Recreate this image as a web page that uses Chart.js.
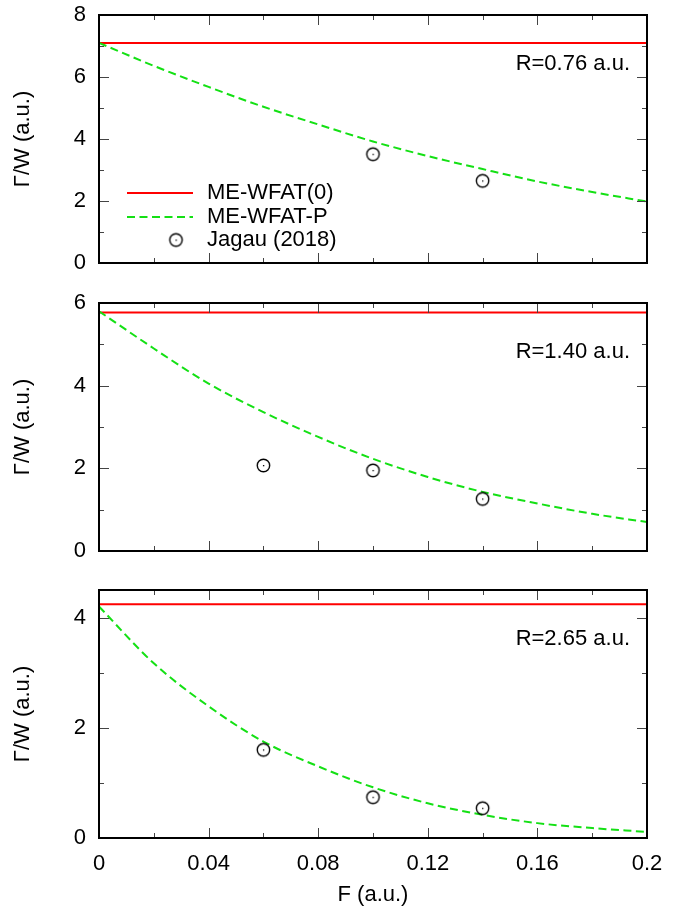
<!DOCTYPE html>
<html>
<head>
<meta charset="utf-8">
<script src="https://cdn.jsdelivr.net/npm/chart.js@4.4.1/dist/chart.umd.min.js"></script>
<style>
  html, body { margin: 0; padding: 0; background: #fff; }
  #wrap { position: relative; width: 685px; height: 913px; overflow: hidden; }
  canvas { position: absolute; left: 0; }
</style>
</head>
<body>
<div id="wrap">
  <canvas id="c1" width="685" height="283" style="top:0px"></canvas>
  <canvas id="c2" width="685" height="290" style="top:283px"></canvas>
  <canvas id="c3" width="685" height="340" style="top:573px"></canvas>
</div>
<script>
// ---------------- DATA ----------------
const F_GRID = [0, 0.02, 0.04, 0.06, 0.08, 0.10, 0.12, 0.14, 0.16, 0.18, 0.20];
const SERIES_NAMES = ['ME-WFAT(0)', 'ME-WFAT-P', 'Jagau (2018)'];
const PANEL_LABELS = ['R=0.76 a.u.', 'R=1.40 a.u.', 'R=2.65 a.u.'];

// ME-WFAT(0): constant value per panel
const WFAT0_R076 = 7.10;
const WFAT0_R140 = 5.77;
const WFAT0_R265 = 4.24;

// ME-WFAT-P curves at F_GRID
const WFATP_R076 = [7.10, 6.36, 5.68, 5.04, 4.47, 3.92, 3.45, 3.03, 2.63, 2.29, 1.98];
const WFATP_R140 = [5.80, 4.90, 4.05, 3.36, 2.76, 2.23, 1.79, 1.43, 1.15, 0.90, 0.70];
const WFATP_R265 = [4.20, 3.17, 2.39, 1.75, 1.30, 0.92, 0.63, 0.42, 0.27, 0.18, 0.11];

// Jagau (2018) points
const JAGAU_F_R076 = [0.10, 0.14];
const JAGAU_R076   = [3.51, 2.65];
const JAGAU_F_R140 = [0.06, 0.10, 0.14];
const JAGAU_R140   = [2.07, 1.95, 1.26];
const JAGAU_F_R265 = [0.06, 0.10, 0.14];
const JAGAU_R265   = [1.60, 0.74, 0.54];

// axes
const X_MIN = 0, X_MAX = 0.2;
const X_TICK_VALUES = [0, 0.04, 0.08, 0.12, 0.16, 0.2];
const X_TICK_LABELS = ['0', '0.04', '0.08', '0.12', '0.16', '0.2'];
const X_MINOR = [0.02, 0.06, 0.10, 0.14, 0.18];
const Y_MAX_R076 = 8, Y_MAX_R140 = 6, Y_MAX_R265 = 4.5;
const Y_MAJOR_R076 = [0, 2, 4, 6, 8], Y_MINOR_R076 = [1, 3, 5, 7];
const Y_MAJOR_R140 = [0, 2, 4, 6],    Y_MINOR_R140 = [1, 3, 5];
const Y_MAJOR_R265 = [0, 2, 4],       Y_MINOR_R265 = [1, 3];
const X_TITLE = 'F (a.u.)';
const Y_TITLE = 'Γ/W (a.u.)';

// ---------------- STYLE ----------------
const FONT = "'Liberation Sans', Arial, Helvetica, sans-serif";
Chart.defaults.font.family = FONT;
Chart.defaults.font.size = 22;
Chart.defaults.color = '#000';
const RED = '#ff0000';
const GREEN = '#14e014';

// open circle with a center dot (gnuplot pt 6 style)
function makeMarker() {
  const c = document.createElement('canvas');
  c.width = 17; c.height = 17;
  const g = c.getContext('2d');
  g.strokeStyle = '#000'; g.lineWidth = 1.4;
  g.beginPath(); g.arc(8.5, 8.5, 6.2, 0, Math.PI * 2); g.stroke();
  g.fillStyle = '#000';
  g.fillRect(8, 8, 1.3, 1.3);
  return c;
}
const MARKER = makeMarker();

const frameTicks = {
  id: 'frameTicks',
  afterDraw(chart, args, opts) {
    const { ctx, chartArea: { left, right, top, bottom }, scales: { x, y } } = chart;
    ctx.save();
    ctx.strokeStyle = '#444';
    ctx.lineWidth = 1;
    const seg = (x1, y1, x2, y2) => { ctx.beginPath(); ctx.moveTo(x1, y1); ctx.lineTo(x2, y2); ctx.stroke(); };
    const MAJ = 10, MIN = 5;
    X_TICK_VALUES.forEach(v => { const p = Math.round(x.getPixelForValue(v)) + 0.5; seg(p, bottom, p, bottom - MAJ); seg(p, top, p, top + MAJ); });
    X_MINOR.forEach(v => { const p = Math.round(x.getPixelForValue(v)) + 0.5; seg(p, bottom, p, bottom - MIN); seg(p, top, p, top + MIN); });
    opts.yMajor.forEach(v => { const p = Math.round(y.getPixelForValue(v)) + 0.5; seg(left, p, left + MAJ, p); seg(right, p, right - MAJ, p); });
    opts.yMinor.forEach(v => { const p = Math.round(y.getPixelForValue(v)) + 0.5; seg(left, p, left + MIN, p); seg(right, p, right - MIN, p); });
    ctx.strokeStyle = '#000';
    ctx.lineWidth = 2;
    ctx.strokeRect(left, top, right - left, bottom - top);
    // panel label
    ctx.fillStyle = '#000';
    ctx.font = '22px ' + FONT;
    ctx.textAlign = 'right';
    ctx.textBaseline = 'middle';
    ctx.fillText(opts.label, right - 17, top + 49);
    // legend
    if (opts.legend) {
      const ds = chart.data.datasets;
      const rows = [193, 217, 240];
      const x1 = 127, x2 = 193, tx = 207;
      ds.forEach((d, i) => {
        const yy = rows[i];
        if (d.showLine !== false) {
          ctx.save();
          ctx.strokeStyle = d.borderColor;
          ctx.lineWidth = d.borderWidth;
          ctx.setLineDash(d.borderDash || []);
          ctx.beginPath(); ctx.moveTo(x1, yy); ctx.lineTo(x2, yy); ctx.stroke();
          ctx.restore();
        } else {
          ctx.drawImage(MARKER, 176 - 8.5, yy - 8.5);
        }
        ctx.textAlign = 'left';
        ctx.fillText(d.label, tx, yy);
      });
    }
    ctx.restore();
  }
};

function pts(xs, ys) { return xs.map((v, i) => ({ x: v, y: ys[i] })); }

function makePanel(id, cfg) {
  const canvas = document.getElementById(id);
  return new Chart(canvas, {
    type: 'line',
    data: {
      datasets: [
        { label: SERIES_NAMES[0], data: pts([X_MIN, X_MAX], [cfg.w0, cfg.w0]),
          borderColor: RED, borderWidth: 2, pointRadius: 0, fill: false, order: 2 },
        { label: SERIES_NAMES[1], data: pts(F_GRID, cfg.wp),
          borderColor: GREEN, borderWidth: 2, borderDash: [8, 4.5], pointRadius: 0,
          cubicInterpolationMode: 'monotone', fill: false, order: 1 },
        { label: SERIES_NAMES[2], data: pts(cfg.jf, cfg.jv), showLine: false,
          pointStyle: MARKER, pointRadius: 8, borderColor: '#000', order: 0 }
      ]
    },
    options: {
      responsive: false,
      animation: false,
      devicePixelRatio: 1,
      layout: { padding: { top: cfg.padTop, right: 38, left: 0, bottom: 0 } },
      plugins: {
        legend: { display: false },
        tooltip: { enabled: false },
        frameTicks: { yMajor: cfg.yMajor, yMinor: cfg.yMinor, label: cfg.label, legend: cfg.legend }
      },
      scales: {
        x: {
          type: 'linear', min: X_MIN, max: X_MAX,
          grid: { display: false, drawTicks: false },
          border: { display: false },
          ticks: {
            display: cfg.showX, stepSize: 0.04, padding: 13, autoSkip: false, maxRotation: 0,
            callback: (v) => {
              const k = X_TICK_VALUES.findIndex(t => Math.abs(t - v) < 1e-9);
              return k >= 0 ? X_TICK_LABELS[k] : '';
            }
          },
          title: { display: cfg.showX, text: X_TITLE, padding: { top: 0, bottom: 5 } },
          afterFit: (s) => { s.height = cfg.xHeight; s.paddingLeft = 0; s.paddingRight = 0; }
        },
        y: {
          min: 0, max: cfg.ymax,
          grid: { display: false, drawTicks: false },
          border: { display: false },
          ticks: {
            stepSize: 1, padding: 13, autoSkip: false,
            callback: (v) => (cfg.yMajor.includes(v) ? String(v) : '')
          },
          title: { display: true, text: Y_TITLE, padding: { top: 10, bottom: 0 } },
          afterFit: (s) => { s.width = 99; s.paddingTop = 0; s.paddingBottom = 0; }
        }
      }
    },
    plugins: [frameTicks]
  });
}

makePanel('c1', { w0: WFAT0_R076, wp: WFATP_R076, jf: JAGAU_F_R076, jv: JAGAU_R076,
  ymax: Y_MAX_R076, yMajor: Y_MAJOR_R076, yMinor: Y_MINOR_R076, label: PANEL_LABELS[0],
  legend: true, showX: false, padTop: 15, xHeight: 20 });
makePanel('c2', { w0: WFAT0_R140, wp: WFATP_R140, jf: JAGAU_F_R140, jv: JAGAU_R140,
  ymax: Y_MAX_R140, yMajor: Y_MAJOR_R140, yMinor: Y_MINOR_R140, label: PANEL_LABELS[1],
  legend: false, showX: false, padTop: 20, xHeight: 22 });
makePanel('c3', { w0: WFAT0_R265, wp: WFATP_R265, jf: JAGAU_F_R265, jv: JAGAU_R265,
  ymax: Y_MAX_R265, yMajor: Y_MAJOR_R265, yMinor: Y_MINOR_R265, label: PANEL_LABELS[2],
  legend: false, showX: true, padTop: 17, xHeight: 75 });
</script>
</body>
</html>
